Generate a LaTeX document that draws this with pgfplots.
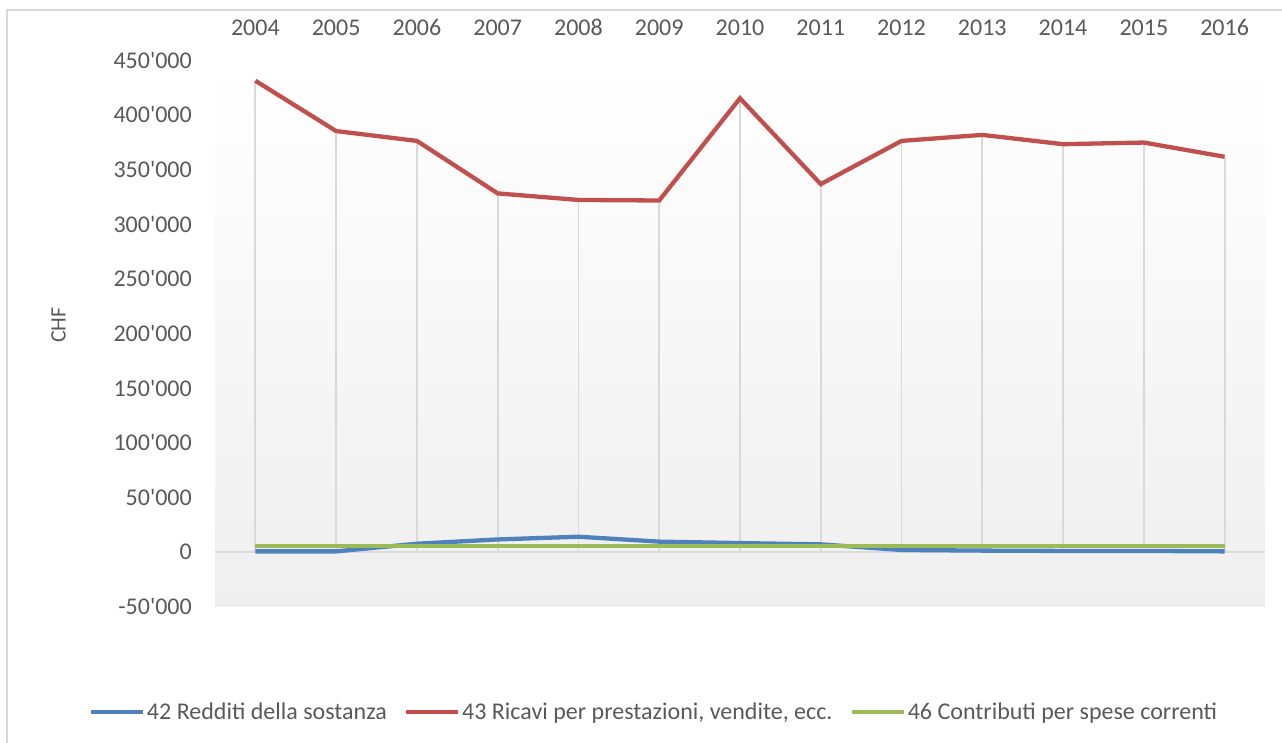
\documentclass[border=0pt]{standalone}
\usepackage{fontspec}
\newfontfamily\cf{Carlito}
\usepackage{pgfplots}
\pgfplotsset{compat=1.18}
\definecolor{txt}{HTML}{595959}
\definecolor{gridgray}{HTML}{D9D9D9}
\definecolor{bgbot}{HTML}{EFEFEF}
\definecolor{sblue}{HTML}{4F81BD}
\definecolor{sred}{HTML}{C0504D}
\definecolor{sgreen}{HTML}{9BBB59}
\begin{document}
\cf
\begin{tikzpicture}[x=1pt,y=1pt]
\useasboundingbox (0,0) rectangle (1282,742);
\draw[gridgray, line width=1.2pt] (7,-20) -- (7,732) -- (1300,732);
\begin{axis}[
  at={(215pt,135.3pt)}, anchor=south west,
  scale only axis, width=1050pt, height=546.7pt,
  xmin=-0.5, xmax=12.5, ymin=-50000, ymax=450000,
  xtick={0,1,2,3,4,5,6,7,8,9,10,11,12},
  xticklabels={2004,2005,2006,2007,2008,2009,2010,2011,2012,2013,2014,2015,2016},
  xticklabel pos=upper,
  ytick={-50000,0,50000,100000,150000,200000,250000,300000,350000,400000,450000},
  scaled y ticks=false,
  yticklabel={\pgfmathprintnumber[fixed,precision=0,1000 sep={'},assume math mode=true]{\tick}},
  axis line style={draw=none}, major tick length=0pt,
  tick label style={font=\fontsize{24}{28}\selectfont, text=txt},
  xticklabel style={inner sep=0pt, yshift=24pt},
  yticklabel style={inner sep=0pt, xshift=-23pt},
  axis background/.style={shade, top color=white, bottom color=bgbot},
  ylabel={CHF},
  ylabel style={at={(axis description cs:-0.149,0.515)}, anchor=center, font=\fontsize{22}{26}\selectfont, text=txt},
  clip=false,
  legend style={at={(axis description cs:0.418,-0.1926)}, anchor=center, draw=none, fill=none,
    legend columns=3, font=\fontsize{24}{28}\selectfont, text=txt,
    nodes={inner xsep=2pt, inner ysep=0pt},
    /tikz/every even column/.append style={column sep=15pt}},
  legend image code/.code={\draw[#1, line width=4.3pt] (0pt,0pt) -- (52pt,0pt);},
]
\draw[gridgray, line width=1.8pt] (axis cs:-0.5,0) -- (axis cs:12.5,0);
\addplot[ycomb, draw=gridgray, line width=1.8pt, forget plot] coordinates {
(0,431000) (1,385000) (2,376000) (3,328000) (4,322000) (5,321500) (6,415000)
(7,336500) (8,376000) (9,381500) (10,373000) (11,374500) (12,361500)};
\addplot[sblue, line width=4.3pt] coordinates {
(0,600) (1,600) (2,7600) (3,11500) (4,14000) (5,9500) (6,8200)
(7,7000) (8,1900) (9,1300) (10,1000) (11,1000) (12,600)};
\addlegendentry{42 Redditi della sostanza}
\addplot[sred, line width=4.3pt] coordinates {
(0,431000) (1,385000) (2,376000) (3,328000) (4,322000) (5,321500) (6,415000)
(7,336500) (8,376000) (9,381500) (10,373000) (11,374500) (12,361500)};
\addlegendentry{43 Ricavi per prestazioni, vendite, ecc.}
\addplot[sgreen, line width=4.3pt] coordinates {
(0,5500) (1,5500) (2,5500) (3,5500) (4,5500) (5,5500) (6,5500)
(7,5500) (8,5500) (9,5500) (10,5500) (11,5500) (12,5500)};
\addlegendentry{46 Contributi per spese correnti}
\end{axis}
\end{tikzpicture}
\end{document}
